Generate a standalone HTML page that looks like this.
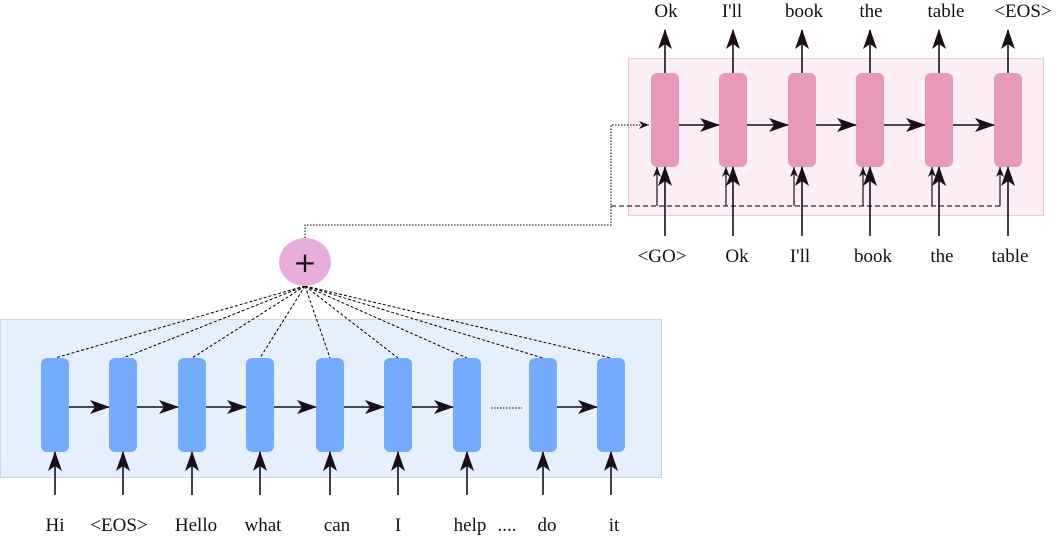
<!DOCTYPE html>
<html><head><meta charset="utf-8"><style>
body{margin:0;background:#fff}
text{font-family:"Liberation Serif",serif;font-size:19px;fill:#111;text-anchor:middle}
</style></head><body>
<svg width="1059" height="536" xmlns="http://www.w3.org/2000/svg">
<defs>
<marker id="a" markerWidth="10" markerHeight="10" refX="9" refY="5" orient="auto" markerUnits="userSpaceOnUse" viewBox="0 0 10 10"><path d="M0,0 L10,5 L0,10 L3,5 Z" fill="#0d1220"/></marker>
<marker id="b" markerWidth="20" markerHeight="14" refX="19" refY="7" orient="auto" markerUnits="userSpaceOnUse" viewBox="0 0 20 14"><path d="M0,0 L20,7 L0,14 L5,7 Z" fill="#1a0f18"/></marker>
<marker id="s" markerWidth="10" markerHeight="8" refX="10" refY="4" orient="auto" markerUnits="userSpaceOnUse" viewBox="0 0 10 8"><path d="M0,0 L10,4 L0,8 L3,4 Z" fill="#1a0f18"/></marker>
</defs>
<rect x="0.5" y="319.5" width="661" height="158" fill="#e5effd" stroke="#cdd6e3"/>
<rect x="628.5" y="58.5" width="415" height="157" fill="#fdedf5" stroke="#ecc8d8"/>
<g stroke="#000" stroke-dasharray="3,2" stroke-width="1" fill="none">
<line x1="305" y1="286" x2="55" y2="358"/><line x1="305" y1="286" x2="123" y2="358"/><line x1="305" y1="286" x2="192" y2="358"/><line x1="305" y1="286" x2="260" y2="358"/><line x1="305" y1="286" x2="330" y2="358"/><line x1="305" y1="286" x2="398" y2="358"/><line x1="305" y1="286" x2="467" y2="358"/><line x1="305" y1="286" x2="543" y2="358"/><line x1="305" y1="286" x2="611" y2="358"/>
</g>
<path d="M305,238 V225 H611 V125 H649" stroke="#000" stroke-dasharray="1.5,1.5" fill="none" marker-end="url(#s)"/>
<ellipse cx="305" cy="262" rx="26" ry="24" fill="#e7aedc"/>
<text x="305" y="272" style="font-family:'DejaVu Sans',sans-serif;font-size:28px">+</text>
<path d="M611,206 H1000" stroke="#000" stroke-dasharray="5,3" fill="none"/>
<g fill="#74abfc">
<rect x="41" y="358" width="28" height="94" rx="6"/><rect x="109" y="358" width="28" height="94" rx="6"/><rect x="178" y="358" width="28" height="94" rx="6"/><rect x="246" y="358" width="28" height="94" rx="6"/><rect x="316" y="358" width="28" height="94" rx="6"/><rect x="384" y="358" width="28" height="94" rx="6"/><rect x="453" y="358" width="28" height="94" rx="6"/><rect x="529" y="358" width="28" height="94" rx="6"/><rect x="597" y="358" width="28" height="94" rx="6"/>
</g>
<g fill="#e699b8">
<rect x="651" y="73" width="28" height="94" rx="6"/><rect x="719" y="73" width="28" height="94" rx="6"/><rect x="788" y="73" width="28" height="94" rx="6"/><rect x="856" y="73" width="28" height="94" rx="6"/><rect x="925" y="73" width="28" height="94" rx="6"/><rect x="994" y="73" width="28" height="94" rx="6"/>
</g>
<g stroke="#0d1220" stroke-width="1.6" marker-end="url(#b)">
<line x1="69" y1="407" x2="109" y2="407"/><line x1="137" y1="407" x2="178" y2="407"/><line x1="206" y1="407" x2="246" y2="407"/><line x1="274" y1="407" x2="316" y2="407"/><line x1="344" y1="407" x2="384" y2="407"/><line x1="412" y1="407" x2="453" y2="407"/><line x1="557" y1="407" x2="597" y2="407"/>
<line x1="55" y1="495" x2="55" y2="452"/><line x1="123" y1="495" x2="123" y2="452"/><line x1="192" y1="495" x2="192" y2="452"/><line x1="260" y1="495" x2="260" y2="452"/><line x1="330" y1="495" x2="330" y2="452"/><line x1="398" y1="495" x2="398" y2="452"/><line x1="467" y1="495" x2="467" y2="452"/><line x1="543" y1="495" x2="543" y2="452"/><line x1="611" y1="495" x2="611" y2="452"/>
<line x1="679" y1="125" x2="719" y2="125"/><line x1="747" y1="125" x2="788" y2="125"/><line x1="816" y1="125" x2="856" y2="125"/><line x1="884" y1="125" x2="925" y2="125"/><line x1="953" y1="125" x2="994" y2="125"/>
<line x1="665" y1="73" x2="665" y2="30"/><line x1="733" y1="73" x2="733" y2="30"/><line x1="802" y1="73" x2="802" y2="30"/><line x1="870" y1="73" x2="870" y2="30"/><line x1="939" y1="73" x2="939" y2="30"/><line x1="1008" y1="73" x2="1008" y2="30"/>
<line x1="665" y1="236" x2="665" y2="167"/><line x1="733" y1="236" x2="733" y2="167"/><line x1="802" y1="236" x2="802" y2="167"/><line x1="870" y1="236" x2="870" y2="167"/><line x1="939" y1="236" x2="939" y2="167"/><line x1="1008" y1="236" x2="1008" y2="167"/>
</g>
<g stroke="#1a0f18" stroke-width="1.2" marker-end="url(#s)">
<line x1="657" y1="206" x2="657" y2="167"/><line x1="726" y1="206" x2="726" y2="167"/><line x1="794" y1="206" x2="794" y2="167"/><line x1="863" y1="206" x2="863" y2="167"/><line x1="932" y1="206" x2="932" y2="167"/><line x1="1000" y1="206" x2="1000" y2="167"/>
</g>
<line x1="491" y1="408" x2="522" y2="408" stroke="#000" stroke-dasharray="1.5,1.5"/>
<text x="55" y="531">Hi</text><text x="119" y="531">&lt;EOS&gt;</text><text x="196" y="531">Hello</text><text x="263" y="531">what</text><text x="337" y="531">can</text><text x="398" y="531">I</text><text x="470" y="531">help</text><text x="507" y="531">....</text><text x="547" y="531">do</text><text x="614" y="531">it</text>
<text x="662" y="262">&lt;GO&gt;</text><text x="737" y="262">Ok</text><text x="800" y="262">I'll</text><text x="873" y="262">book</text><text x="942" y="262">the</text><text x="1010" y="262">table</text>
<text x="666" y="17">Ok</text><text x="732" y="17">I'll</text><text x="804" y="17">book</text><text x="871" y="17">the</text><text x="946" y="17">table</text><text x="1023" y="17">&lt;EOS&gt;</text>
</svg>
</body></html>
